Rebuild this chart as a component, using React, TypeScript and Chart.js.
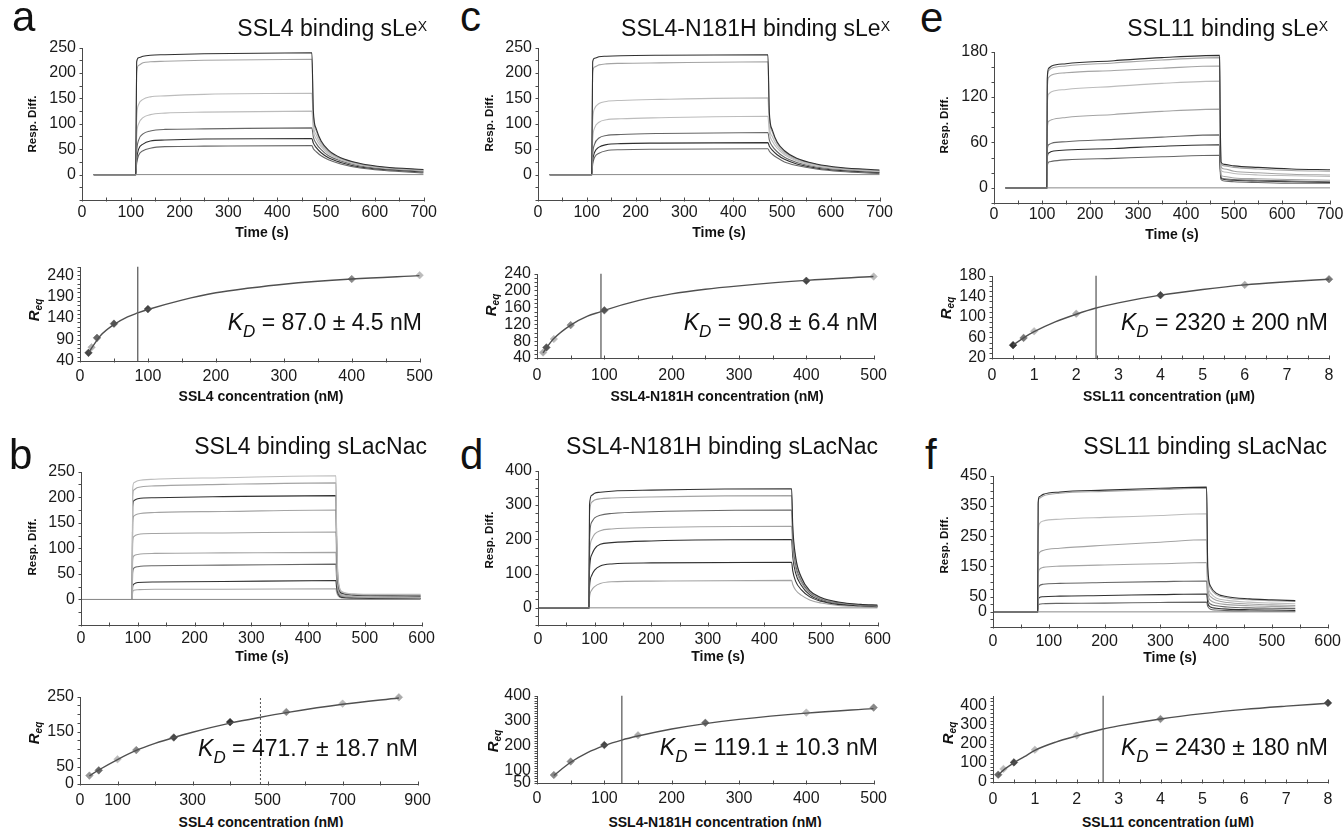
import React, { useEffect, useRef } from 'react';
import { Chart, registerables } from 'chart.js';

Chart.register(...registerables);

const FONT = "'Liberation Sans', Arial, Helvetica, sans-serif";
const DK = '#303030';
const GR = '#666666';
const LT = '#a4a4a4';
const LL = '#bcbcbc';

// ================= Panel a : SSL4 binding sLeX =================
const A_TIME = [24, 110, 112, 116, 125, 140, 170, 250, 471, 474, 480, 490, 505, 530, 570, 620, 700];
const A_CURVES = [
  [0, 0, 222, 230, 233, 235, 236, 238, 240, 125, 90, 66, 48, 33, 22, 15, 10],
  [0, 0, 200, 215, 220, 222, 223, 225, 227, 118, 86, 63, 46, 32, 21, 14, 9],
  [0, 0, 110, 138, 148, 153, 155, 158, 160, 100, 78, 59, 44, 31, 20, 14, 9],
  [0, 0, 75, 100, 112, 118, 121, 123, 125, 88, 70, 55, 41, 29, 19, 13, 8],
  [0, 0, 45, 68, 80, 86, 89, 90, 92, 74, 61, 49, 37, 27, 17, 11, 7],
  [0, 0, 30, 50, 60, 66, 68, 70, 71, 62, 53, 43, 33, 24, 15, 10, 5],
  [0, 0, 22, 38, 47, 52, 55, 56, 57, 51, 45, 37, 29, 21, 13, 8, 3],
];
const A_COLORS = [DK, LT, LL, LL, GR, DK, GR];
const A_BUFFER_T = [24, 700];
const A_BUFFER_Y = [0, 0];
const A_CONC = [12.5, 17, 25, 50, 100, 400, 500];
const A_REQ = [59, 72, 94, 127, 161, 231, 240];
const A_PT_COLORS = ['#444', '#b0b0b0', '#666', '#555', '#444', '#888', '#bbb'];
const A_FIT_X = [12, 20, 30, 50, 70, 85, 100, 150, 200, 250, 300, 400, 500];
const A_FIT_Y = [58, 77, 99, 125, 143, 152, 160, 182, 199, 210, 219, 231, 239];
const A_KD_LINE = 85;

// ================= Panel c : SSL4-N181H binding sLeX =================
const C_TIME = [24, 110, 112, 116, 125, 140, 170, 250, 471, 474, 480, 490, 505, 530, 570, 620, 700];
const C_CURVES = [
  [0, 0, 222, 229, 232, 233, 234, 235, 236, 122, 88, 64, 47, 32, 21, 14, 9],
  [0, 0, 200, 212, 216, 218, 219, 220, 222, 115, 84, 62, 45, 31, 20, 13, 8],
  [0, 0, 105, 130, 140, 144, 146, 148, 151, 95, 75, 57, 42, 29, 19, 12, 7],
  [0, 0, 68, 92, 103, 108, 110, 112, 115, 82, 66, 52, 39, 27, 17, 11, 6],
  [0, 0, 40, 60, 72, 77, 79, 81, 83, 68, 56, 45, 34, 24, 15, 10, 5],
  [0, 0, 27, 44, 54, 59, 61, 62, 63, 56, 48, 39, 30, 21, 13, 8, 4],
  [0, 0, 20, 34, 42, 47, 49, 50, 51, 46, 40, 33, 25, 18, 11, 6, 2],
];
const C_COLORS = [DK, LT, LL, LL, GR, DK, GR];
const C_BUFFER_T = [24, 700];
const C_BUFFER_Y = [0, 0];
const C_CONC = [9, 14, 25, 50, 100, 400, 500];
const C_REQ = [53, 65, 85, 118, 153, 223, 233];
const C_PT_COLORS = ['#aaa', '#555', '#bbb', '#888', '#555', '#444', '#bbb'];
const C_FIT_X = [9, 15, 25, 50, 75, 95, 100, 150, 200, 250, 300, 400, 500];
const C_FIT_Y = [52, 66, 86, 118, 139, 150, 153, 176, 192, 203, 211, 224, 233];
const C_KD_LINE = 95;

// ================= Panel e : SSL11 binding sLeX =================
const E_TIME = [24, 110, 111, 114, 120, 150, 250, 350, 470, 471, 473, 480, 500, 550, 620, 700];
const E_CURVES = [
  [0, 0, 145, 158, 161, 164, 168, 172, 175, 110, 34, 31, 29, 27, 25, 24],
  [0, 0, 140, 155, 158, 161, 165, 169, 172, 105, 32, 29, 27, 25, 23, 22],
  [0, 0, 130, 146, 149, 152, 155, 158, 161, 95, 28, 25, 22, 20, 18, 17],
  [0, 0, 110, 124, 127, 130, 134, 138, 141, 82, 23, 21, 19, 17, 16, 15],
  [0, 0, 78, 88, 90, 93, 97, 101, 104, 60, 17, 15, 13, 12, 11, 10],
  [0, 0, 50, 57, 59, 61, 64, 67, 70, 40, 14, 12, 11, 10, 9, 8],
  [0, 0, 40, 46, 48, 50, 52, 55, 57, 33, 13, 11, 10, 9, 8, 7],
  [0, 0, 29, 34, 35, 37, 39, 41, 43, 25, 11, 9, 8, 7, 6, 6],
];
const E_COLORS = [DK, LT, LT, LL, LT, GR, DK, GR];
const E_BUFFER_T = [24, 700];
const E_BUFFER_Y = [0, 0];
const E_CONC = [0.5, 0.75, 1, 2, 4, 6, 8];
const E_REQ = [45, 59, 72, 106, 142, 162, 173];
const E_PT_COLORS = ['#333', '#777', '#bbb', '#aaa', '#444', '#aaa', '#777'];
const E_FIT_X = [0.5, 0.75, 1, 1.5, 2, 2.47, 3, 4, 5, 6, 7, 8];
const E_FIT_Y = [45, 59, 71, 90, 105, 117, 127, 142, 153, 162, 168, 173];
const E_KD_LINE = 2.47;

// ================= Panel b : SSL4 binding sLacNac =================
const B_TIME = [0, 90, 91, 93, 100, 130, 250, 449, 450, 453, 460, 480, 520, 598];
const B_CURVES = [
  [0, 0, 215, 228, 232, 235, 238, 242, 150, 40, 15, 11, 10, 10],
  [0, 0, 200, 214, 219, 222, 225, 228, 140, 36, 14, 10, 9, 9],
  [0, 0, 180, 193, 197, 199, 201, 203, 125, 32, 12, 9, 8, 7],
  [0, 0, 150, 163, 167, 170, 172, 175, 110, 28, 11, 8, 7, 6],
  [0, 0, 110, 123, 127, 129, 130, 132, 85, 23, 9, 7, 6, 5],
  [0, 0, 75, 85, 88, 90, 91, 92, 60, 18, 7, 5, 4, 3],
  [0, 0, 52, 61, 64, 66, 67, 69, 45, 14, 6, 4, 3, 2],
  [0, 0, 25, 30, 33, 34, 35, 37, 25, 10, 4, 3, 2, 2],
  [0, 0, 14, 18, 19, 20, 20, 21, 15, 7, 3, 2, 1, 1],
];
const B_COLORS = [LL, LT, DK, LT, LT, LT, GR, DK, LT];
const B_BUFFER_T = [0, 598];
const B_BUFFER_Y = [0, 0];
const B_CONC = [25, 50, 100, 150, 250, 400, 550, 700, 850];
const B_REQ = [24, 39, 71, 97, 133, 177, 206, 230, 248];
const B_PT_COLORS = ['#999', '#666', '#bbb', '#888', '#444', '#333', '#888', '#bbb', '#aaa'];
const B_FIT_X = [25, 50, 100, 150, 200, 250, 300, 400, 481, 550, 700, 850];
const B_FIT_Y = [23, 40, 70, 96, 116, 133, 148, 174, 191, 204, 228, 246];
const B_KD_LINE = 481;

// ================= Panel d : SSL4-N181H binding sLacNac =================
const D_TIME = [0, 90, 91, 95, 100, 110, 130, 200, 448, 450, 455, 465, 480, 500, 530, 570, 600];
const D_CURVES = [
  [0, 0, 300, 328, 334, 337, 340, 343, 347, 240, 150, 90, 50, 30, 17, 10, 8],
  [0, 0, 270, 308, 314, 318, 320, 323, 327, 225, 142, 86, 48, 28, 16, 9, 7],
  [0, 0, 200, 250, 262, 270, 275, 280, 285, 200, 128, 80, 45, 26, 15, 8, 6],
  [0, 0, 150, 200, 215, 225, 230, 234, 238, 172, 115, 73, 42, 24, 14, 8, 5],
  [0, 0, 110, 155, 172, 185, 190, 195, 199, 150, 102, 66, 38, 22, 12, 7, 4],
  [0, 0, 60, 95, 110, 122, 128, 131, 133, 108, 78, 53, 32, 19, 10, 6, 3],
  [0, 0, 30, 52, 62, 71, 76, 78, 80, 68, 52, 37, 23, 14, 7, 4, 2],
];
const D_COLORS = [DK, LT, GR, LT, DK, DK, LT];
const D_BUFFER_T = [0, 600];
const D_BUFFER_Y = [0, 0];
const D_CONC = [25, 50, 100, 150, 250, 400, 500];
const D_REQ = [82, 136, 202, 241, 291, 332, 352];
const D_PT_COLORS = ['#888', '#888', '#444', '#aaa', '#666', '#bbb', '#888'];
const D_FIT_X = [25, 50, 75, 100, 126, 150, 200, 250, 300, 400, 500];
const D_FIT_Y = [80, 133, 172, 200, 222, 238, 266, 288, 305, 330, 348];
const D_KD_LINE = 126;

// ================= Panel f : SSL11 binding sLacNac =================
const F_TIME = [0, 80, 81, 83, 90, 120, 200, 300, 383, 385, 390, 400, 420, 460, 500, 542];
const F_CURVES = [
  [0, 0, 360, 380, 388, 396, 402, 408, 412, 150, 85, 62, 50, 43, 40, 37],
  [0, 0, 355, 375, 383, 392, 398, 404, 408, 140, 78, 57, 46, 40, 37, 34],
  [0, 0, 250, 290, 300, 306, 312, 318, 324, 105, 62, 46, 38, 32, 29, 27],
  [0, 0, 170, 195, 203, 210, 220, 230, 238, 85, 50, 38, 31, 26, 23, 21],
  [0, 0, 120, 140, 147, 151, 155, 159, 163, 65, 38, 29, 24, 20, 18, 16],
  [0, 0, 70, 86, 91, 94, 97, 100, 102, 45, 26, 20, 16, 13, 12, 11],
  [0, 0, 38, 47, 50, 52, 54, 57, 59, 30, 16, 12, 9, 7, 6, 5],
  [0, 0, 20, 25, 27, 28, 29, 31, 32, 18, 9, 6, 4, 3, 2, 2],
];
const F_COLORS = [DK, LT, LL, LT, LT, GR, DK, GR];
const F_BUFFER_T = [0, 542];
const F_BUFFER_Y = [0, 0];
const F_CONC = [0.125, 0.25, 0.5, 1, 2, 4, 8];
const F_REQ = [38, 68, 102, 168, 243, 328, 412];
const F_PT_COLORS = ['#666', '#bbb', '#444', '#bbb', '#bbb', '#888', '#444'];
const F_FIT_X = [0.125, 0.25, 0.5, 0.75, 1, 1.5, 2, 2.63, 3, 4, 5, 6, 7, 8];
const F_FIT_Y = [36, 62, 100, 132, 165, 208, 240, 276, 292, 328, 356, 378, 395, 410];
const F_KD_LINE = 2.63;

// ================= Tick labels =================
const T700_TICKS = [0, 100, 200, 300, 400, 500, 600, 700];
const T600_TICKS = [0, 100, 200, 300, 400, 500, 600];
const C500_TICKS = [0, 100, 200, 300, 400, 500];
const C900_TICKS = [0, 100, 300, 500, 700, 900];
const UM8_TICKS = [0, 1, 2, 3, 4, 5, 6, 7, 8];
const A_TOP_Y = [0, 50, 100, 150, 200, 250];
const A_BOT_Y = [40, 90, 140, 190, 240];
const C_TOP_Y = [0, 50, 100, 150, 200, 250];
const C_BOT_Y = [40, 80, 120, 160, 200, 240];
const E_TOP_Y = [0, 60, 120, 180];
const E_BOT_Y = [20, 60, 100, 140, 180];
const B_TOP_Y = [0, 50, 100, 150, 200, 250];
const B_BOT_Y = [0, 50, 150, 250];
const D_TOP_Y = [0, 100, 200, 300, 400];
const D_BOT_Y = [50, 100, 200, 300, 400];
const F_TOP_Y = [0, 50, 150, 250, 350, 450];
const F_BOT_Y = [0, 100, 200, 300, 400];

// ================= helpers =================
const pts = (xs: number[], ys: number[]) => xs.map((x, i) => ({ x, y: ys[i] }));

function sensorSets(time: number[], curves: number[][], colors: string[], bt: number[], by: number[]) {
  const sets: any[] = [
    { data: pts(bt, by), showLine: true, pointRadius: 0, borderWidth: 1, borderColor: '#888' },
  ];
  curves.forEach((vals, i) => {
    sets.push({
      data: pts(time, vals),
      showLine: true,
      pointRadius: 0,
      borderWidth: 1.1,
      borderColor: colors[i],
      cubicInterpolationMode: 'monotone',
    });
  });
  return sets;
}

function fitSets(fx: number[], fy: number[], cx: number[], cy: number[], colors: string[], kd: number, ymin: number, ymax: number, dashed: boolean) {
  return [
    {
      data: [{ x: kd, y: ymin }, { x: kd, y: ymax }],
      showLine: true, pointRadius: 0, borderWidth: dashed ? 1 : 1.3,
      borderColor: dashed ? '#555' : '#606060',
      borderDash: dashed ? [2, 2] : [],
    },
    {
      data: pts(fx, fy), showLine: true, pointRadius: 0, borderWidth: 1.4,
      borderColor: '#505050', cubicInterpolationMode: 'monotone',
    },
    {
      data: pts(cx, cy), showLine: false, pointStyle: 'rectRot', pointRadius: 3.8,
      pointBackgroundColor: colors, pointBorderColor: colors, pointBorderWidth: 0.5, clip: false,
    },
  ];
}

type Axis = { min: number; max: number; ticks: number[]; minor: number; pad?: number };
type Panel = { key: string; box: [number, number, number, number]; x: Axis; y: Axis; datasets: any[] };

const YW = 50, XH = 30, PT = 12, PR = 16;

const axisPlugin = {
  id: 'axisTicks',
  afterDatasetsDraw(chart: any, _a: any, opts: any) {
    const { ctx, chartArea: ca, scales } = chart;
    const xs = scales.x, ys = scales.y;
    ctx.save();
    ctx.strokeStyle = '#4a4a4a';
    ctx.lineWidth = 1;
    ctx.beginPath();
    const X0 = Math.round(ca.left) + 0.5;
    const Y0 = Math.round(ca.bottom) + 0.5;
    ctx.moveTo(X0, Math.round(ca.top));
    ctx.lineTo(X0, Y0);
    ctx.lineTo(Math.round(ca.right) + 1, Y0);
    const xm = opts.xMinor, ym = opts.yMinor;
    for (let i = 0; ; i++) {
      const v = xs.min + i * xm;
      if (v > xs.max + 1e-9) break;
      const px = Math.round(xs.getPixelForValue(v)) + 0.5;
      ctx.moveTo(px, Y0 - 3);
      ctx.lineTo(px, Y0 + 1);
    }
    for (let i = 0; ; i++) {
      const v = ys.min + i * ym;
      if (v > ys.max + 1e-9) break;
      const py = Math.round(ys.getPixelForValue(v)) + 0.5;
      ctx.moveTo(X0 - 3, py);
      ctx.lineTo(X0, py);
    }
    ctx.stroke();
    ctx.restore();
  },
};

function ChartPanel({ p }: { p: Panel }) {
  const ref = useRef<HTMLCanvasElement>(null);
  const [l, t, r, b] = p.box;
  const w = r - l + YW + PR;
  const h = b - t + PT + XH;
  useEffect(() => {
    const tickFont = { family: FONT, size: 16 };
    const chart = new Chart(ref.current as HTMLCanvasElement, {
      type: 'scatter',
      data: { datasets: p.datasets },
      plugins: [axisPlugin],
      options: {
        responsive: false,
        animation: false,
        devicePixelRatio: 1,
        layout: { padding: { left: 0, right: PR, top: PT, bottom: 0 } },
        plugins: {
          legend: { display: false },
          tooltip: { enabled: false },
          axisTicks: { xMinor: p.x.minor, yMinor: p.y.minor },
        } as any,
        scales: {
          x: {
            type: 'linear',
            min: p.x.min,
            max: p.x.max,
            afterBuildTicks: (s: any) => { s.ticks = p.x.ticks.map((v) => ({ value: v })); },
            afterFit: (s: any) => { s.height = XH; },
            grid: { display: false, drawTicks: false },
            border: { display: false },
            ticks: { font: tickFont, color: '#1a1a1a', padding: p.x.pad ?? 4, maxRotation: 0, minRotation: 0, autoSkip: false },
          },
          y: {
            type: 'linear',
            min: p.y.min,
            max: p.y.max,
            afterBuildTicks: (s: any) => { s.ticks = p.y.ticks.map((v) => ({ value: v })); },
            afterFit: (s: any) => { s.width = YW; },
            grid: { display: false, drawTicks: false },
            border: { display: false },
            ticks: { font: tickFont, color: '#1a1a1a', padding: 6, autoSkip: false },
          },
        },
      } as any,
    });
    return () => chart.destroy();
  }, []);
  return (
    <canvas
      ref={ref}
      width={w}
      height={h}
      style={{ position: 'absolute', left: l - YW, top: t - PT, width: w, height: h }}
    />
  );
}

const PANELS: Panel[] = [
  {
    key: 'aTop', box: [82, 44, 424, 200],
    x: { min: 0, max: 700, ticks: T700_TICKS, minor: 50, pad: 3 },
    y: { min: -50, max: 250, ticks: A_TOP_Y, minor: 25 },
    datasets: sensorSets(A_TIME, A_CURVES, A_COLORS, A_BUFFER_T, A_BUFFER_Y),
  },
  {
    key: 'aBot', box: [80, 263, 423, 361],
    x: { min: 0, max: 500, ticks: C500_TICKS, minor: 50, pad: 6 },
    y: { min: 40, max: 260, ticks: A_BOT_Y, minor: 10 },
    datasets: fitSets(A_FIT_X, A_FIT_Y, A_CONC, A_REQ, A_PT_COLORS, A_KD_LINE, 40, 260, false),
  },
  {
    key: 'cTop', box: [538, 44, 880, 200],
    x: { min: 0, max: 700, ticks: T700_TICKS, minor: 50, pad: 3 },
    y: { min: -50, max: 250, ticks: C_TOP_Y, minor: 25 },
    datasets: sensorSets(C_TIME, C_CURVES, C_COLORS, C_BUFFER_T, C_BUFFER_Y),
  },
  {
    key: 'cBot', box: [537, 270, 879, 358],
    x: { min: 0, max: 500, ticks: C500_TICKS, minor: 50, pad: 8 },
    y: { min: 40, max: 240, ticks: C_BOT_Y, minor: 10 },
    datasets: fitSets(C_FIT_X, C_FIT_Y, C_CONC, C_REQ, C_PT_COLORS, C_KD_LINE, 40, 240, false),
  },
  {
    key: 'eTop', box: [994, 48, 1330, 203],
    x: { min: 0, max: 700, ticks: T700_TICKS, minor: 50, pad: 2 },
    y: { min: -20, max: 180, ticks: E_TOP_Y, minor: 20 },
    datasets: sensorSets(E_TIME, E_CURVES, E_COLORS, E_BUFFER_T, E_BUFFER_Y),
  },
  {
    key: 'eBot', box: [992, 272, 1329, 358],
    x: { min: 0, max: 8, ticks: UM8_TICKS, minor: 0.5, pad: 8 },
    y: { min: 20, max: 180, ticks: E_BOT_Y, minor: 10 },
    datasets: fitSets(E_FIT_X, E_FIT_Y, E_CONC, E_REQ, E_PT_COLORS, E_KD_LINE, 20, 180, false),
  },
  {
    key: 'bTop', box: [81, 468, 423, 625],
    x: { min: 0, max: 600, ticks: T600_TICKS, minor: 50, pad: 4 },
    y: { min: -50, max: 250, ticks: B_TOP_Y, minor: 25 },
    datasets: sensorSets(B_TIME, B_CURVES, B_COLORS, B_BUFFER_T, B_BUFFER_Y),
  },
  {
    key: 'bBot', box: [80, 693, 422, 784],
    x: { min: 0, max: 900, ticks: C900_TICKS, minor: 100, pad: 7 },
    y: { min: 0, max: 250, ticks: B_BOT_Y, minor: 25 },
    datasets: fitSets(B_FIT_X, B_FIT_Y, B_CONC, B_REQ, B_PT_COLORS, B_KD_LINE, 0, 250, true),
  },
  {
    key: 'dTop', box: [538, 467, 880, 625],
    x: { min: 0, max: 600, ticks: T600_TICKS, minor: 50, pad: 5 },
    y: { min: -50, max: 400, ticks: D_TOP_Y, minor: 25 },
    datasets: sensorSets(D_TIME, D_CURVES, D_COLORS, D_BUFFER_T, D_BUFFER_Y),
  },
  {
    key: 'dBot', box: [537, 692, 877, 783],
    x: { min: 0, max: 500, ticks: C500_TICKS, minor: 50, pad: 6 },
    y: { min: 50, max: 400, ticks: D_BOT_Y, minor: 10 },
    datasets: fitSets(D_FIT_X, D_FIT_Y, D_CONC, D_REQ, D_PT_COLORS, D_KD_LINE, 50, 400, false),
  },
  {
    key: 'fTop', box: [993, 472, 1330, 627],
    x: { min: 0, max: 600, ticks: T600_TICKS, minor: 50, pad: 5 },
    y: { min: -50, max: 450, ticks: F_TOP_Y, minor: 25 },
    datasets: sensorSets(F_TIME, F_CURVES, F_COLORS, F_BUFFER_T, F_BUFFER_Y),
  },
  {
    key: 'fBot', box: [993, 692, 1328, 782],
    x: { min: 0, max: 8, ticks: UM8_TICKS, minor: 0.5, pad: 8 },
    y: { min: 0, max: 450, ticks: F_BOT_Y, minor: 20 },
    datasets: fitSets(F_FIT_X, F_FIT_Y, F_CONC, F_REQ, F_PT_COLORS, F_KD_LINE, 0, 450, false),
  },
];

// ================= text helpers =================
const BASE = 0.8465;

function Letter({ ch, x, base }: { ch: string; x: number; base: number }) {
  const s = 42;
  return (
    <div style={{ position: 'absolute', left: x, top: base - BASE * s, fontFamily: FONT, fontSize: s, lineHeight: `${s}px`, color: '#111' }}>{ch}</div>
  );
}

function Title({ right, base, main, sup }: { right: number; base: number; main: string; sup?: string }) {
  const s = 23;
  return (
    <div style={{ position: 'absolute', right: 1344 - right, top: base - BASE * s, fontFamily: FONT, fontSize: s, lineHeight: `${s}px`, color: '#111', whiteSpace: 'nowrap' }}>
      {main}
      {sup ? <span style={{ fontSize: 14, position: 'relative', top: -5, lineHeight: 0 }}>{sup}</span> : null}
    </div>
  );
}

function KD({ right, base, value }: { right: number; base: number; value: string }) {
  const s = 23;
  return (
    <div style={{ position: 'absolute', right: 1344 - right, top: base - BASE * s, fontFamily: FONT, fontSize: s, lineHeight: `${s}px`, color: '#111', whiteSpace: 'nowrap' }}>
      <span style={{ fontStyle: 'italic' }}>K</span>
      <span style={{ fontStyle: 'italic', fontSize: 17, position: 'relative', top: 7, lineHeight: 0 }}>D</span>
      {' = ' + value}
    </div>
  );
}

function Centered({ x, y, size, rotate, children }: { x: number; y: number; size: number; rotate?: boolean; children: any }) {
  return (
    <div
      style={{
        position: 'absolute', left: x, top: y, fontFamily: FONT, fontSize: size, fontWeight: 700,
        lineHeight: `${size}px`, color: '#111', whiteSpace: 'nowrap',
        transform: `translate(-50%, -50%)${rotate ? ' rotate(-90deg)' : ''}`,
      }}
    >
      {children}
    </div>
  );
}

function Req({ x, y }: { x: number; y: number }) {
  return (
    <Centered x={x} y={y} size={15} rotate>
      <span style={{ fontStyle: 'italic' }}>R</span>
      <span style={{ fontStyle: 'italic', fontSize: 10, position: 'relative', top: 3, lineHeight: 0 }}>eq</span>
    </Centered>
  );
}

export default function App() {
  return (
    <div style={{ position: 'fixed', left: 0, top: 0, width: 1344, height: 827, background: '#fff', overflow: 'hidden' }}>
      {PANELS.map((p) => <ChartPanel key={p.key} p={p} />)}

      <Letter ch="a" x={12} base={32} />
      <Letter ch="c" x={460} base={32} />
      <Letter ch="e" x={920} base={33} />
      <Letter ch="b" x={9} base={470} />
      <Letter ch="d" x={460} base={470} />
      <Letter ch="f" x={925} base={470} />

      <Title right={427} base={36} main="SSL4 binding sLe" sup="X" />
      <Title right={890} base={36} main="SSL4-N181H binding sLe" sup="X" />
      <Title right={1328} base={36} main="SSL11 binding sLe" sup="X" />
      <Title right={427} base={454} main="SSL4 binding sLacNac" />
      <Title right={878} base={454} main="SSL4-N181H binding sLacNac" />
      <Title right={1327} base={454} main="SSL11 binding sLacNac" />

      <KD right={422} base={330} value="87.0 ± 4.5 nM" />
      <KD right={878} base={330} value="90.8 ± 6.4 nM" />
      <KD right={1328} base={330} value="2320 ± 200 nM" />
      <KD right={418} base={756} value="471.7 ± 18.7 nM" />
      <KD right={878} base={755} value="119.1 ± 10.3 nM" />
      <KD right={1328} base={755} value="2430 ± 180 nM" />

      <Centered x={33} y={124} size={11.5} rotate>Resp. Diff.</Centered>
      <Centered x={490} y={123} size={11.5} rotate>Resp. Diff.</Centered>
      <Centered x={945} y={125} size={11.5} rotate>Resp. Diff.</Centered>
      <Centered x={33} y={547} size={11.5} rotate>Resp. Diff.</Centered>
      <Centered x={490} y={540} size={11.5} rotate>Resp. Diff.</Centered>
      <Centered x={945} y={545} size={11.5} rotate>Resp. Diff.</Centered>

      <Req x={33} y={310} />
      <Req x={490} y={305} />
      <Req x={945} y={308} />
      <Req x={33} y={733} />
      <Req x={492} y={741} />
      <Req x={947} y={733} />

      <Centered x={262} y={232} size={14}>Time (s)</Centered>
      <Centered x={719} y={232} size={14}>Time (s)</Centered>
      <Centered x={1172} y={234} size={14}>Time (s)</Centered>
      <Centered x={262} y={656} size={14}>Time (s)</Centered>
      <Centered x={718} y={656} size={14}>Time (s)</Centered>
      <Centered x={1170} y={657} size={14}>Time (s)</Centered>

      <Centered x={261} y={396} size={14}>SSL4 concentration (nM)</Centered>
      <Centered x={717} y={396} size={14}>SSL4-N181H concentration (nM)</Centered>
      <Centered x={1169} y={396} size={14}>SSL11 concentration (μM)</Centered>
      <Centered x={261} y={822} size={14}>SSL4 concentration (nM)</Centered>
      <Centered x={715} y={822} size={14}>SSL4-N181H concentration (nM)</Centered>
      <Centered x={1168} y={822} size={14}>SSL11 concentration (μM)</Centered>
    </div>
  );
}
